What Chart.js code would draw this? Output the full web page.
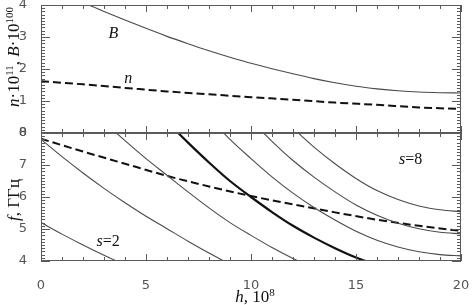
<!DOCTYPE html>
<html>
<head>
<meta charset="utf-8">
<script src="https://cdn.jsdelivr.net/npm/chart.js@4.4.1/dist/chart.umd.min.js"></script>
<style>
  html, body { margin: 0; padding: 0; background: #fff; }
  #wrap { position: relative; width: 473px; height: 305px; }
  #wrap canvas { position: absolute; left: 0; top: 0; }
</style>
</head>
<body>
<div id="wrap">
  <canvas id="topChart" width="473" height="305"></canvas>
  <canvas id="botChart" width="473" height="305"></canvas>
</div>
<script>
(() => {
    // h, 10^8 (integer steps) and a coarser grid for the dashed curves
    const h = [0, 1, 2, 3, 4, 5, 6, 7, 8, 9, 10, 11, 12, 13, 14, 15, 16, 17, 18, 19, 20];
    const hEven = [0, 2, 4, 6, 8, 10, 12, 14, 16, 18, 20];

    // top panel: B*10^100 (solid) and n*10^11 (dashed)
    const bField = [4.70, 4.38, 4.08, 3.80, 3.53, 3.27, 3.02, 2.79, 2.57, 2.37, 2.18, 2.01, 1.85, 1.70, 1.57, 1.46, 1.38, 1.32, 1.28, 1.26, 1.25];
    const nDens = [1.62, 1.52, 1.41, 1.30, 1.21, 1.12, 1.04, 0.95, 0.88, 0.80, 0.75];

    // bottom panel: harmonics s=2..8 (GHz) and plasma frequency (dashed)
    const fS2 = [5.20, 4.84, 4.50, 4.18, 3.88, 3.60, 3.34, 3.08, 2.83, 2.60, 2.40, 2.21, 2.04, 1.89, 1.76, 1.64, 1.55, 1.48, 1.43, 1.40, 1.39];
    const fS3 = [7.80, 7.26, 6.75, 6.27, 5.82, 5.40, 5.01, 4.62, 4.25, 3.90, 3.60, 3.32, 3.06, 2.84, 2.64, 2.47, 2.33, 2.22, 2.15, 2.10, 2.08];
    const fS4 = [10.40, 9.68, 9.00, 8.36, 7.76, 7.20, 6.68, 6.16, 5.66, 5.20, 4.80, 4.42, 4.08, 3.78, 3.52, 3.29, 3.10, 2.96, 2.86, 2.80, 2.77];
    const fS5 = [13.00, 12.10, 11.25, 10.45, 9.70, 9.00, 8.35, 7.70, 7.08, 6.50, 6.00, 5.53, 5.10, 4.73, 4.40, 4.11, 3.88, 3.70, 3.58, 3.50, 3.47];
    const fS6 = [15.60, 14.52, 13.50, 12.54, 11.64, 10.80, 10.02, 9.24, 8.49, 7.80, 7.20, 6.63, 6.12, 5.67, 5.28, 4.93, 4.65, 4.44, 4.29, 4.20, 4.16];
    const fS7 = [18.20, 16.94, 15.75, 14.63, 13.58, 12.60, 11.69, 10.78, 9.91, 9.10, 8.40, 7.74, 7.14, 6.62, 6.16, 5.75, 5.43, 5.18, 5.01, 4.90, 4.85];
    const fS8 = [20.80, 19.36, 18.00, 16.72, 15.52, 14.40, 13.36, 12.32, 11.32, 10.40, 9.60, 8.84, 8.16, 7.56, 7.04, 6.58, 6.20, 5.92, 5.72, 5.60, 5.54];
    const fPlasma = [7.82, 7.42, 7.04, 6.66, 6.33, 6.03, 5.77, 5.52, 5.29, 5.10, 4.94];

    const hTicks = [0, 5, 10, 15, 20];
    const topTicks = [0, 1, 2, 3, 4];
    const botTicks = [4, 5, 6, 7, 8];

    const SERIF = '"Liberation Serif", "Times New Roman", serif';
    const TICK_FONT = { family: '"DejaVu Sans", sans-serif', size: 13 };
    const TICK_COLOR = '#555';

    const pts = (xs, ys) => xs.map((x, i) => ({ x, y: ys[i] }));

    function thin(data) {
        return { data, borderColor: '#4a4a4a', borderWidth: 1.1, pointRadius: 0, cubicInterpolationMode: 'monotone', fill: false };
    }
    function dashed(data) {
        return { data, borderColor: '#111', borderWidth: 2, borderDash: [8, 4], pointRadius: 0, cubicInterpolationMode: 'monotone', fill: false };
    }

    // text with italic parts and superscripts, centred on (x, y)
    function drawRich(ctx, parts, x, y, angle, size) {
        const fontOf = p => `${p.it ? 'italic ' : ''}${p.sup ? Math.round(size * 0.65) : size}px ${SERIF}`;
        let w = 0;
        parts.forEach(p => { ctx.font = fontOf(p); w += ctx.measureText(p.t).width; });
        ctx.save();
        ctx.translate(x, y);
        ctx.rotate(angle);
        ctx.fillStyle = '#111';
        ctx.textAlign = 'left';
        ctx.textBaseline = 'alphabetic';
        let cx = -w / 2;
        parts.forEach(p => {
            ctx.font = fontOf(p);
            ctx.fillText(p.t, cx, p.sup ? 0 : size * 0.35);
            cx += ctx.measureText(p.t).width;
        });
        ctx.restore();
    }

    const framePlugin = {
        id: 'frame',
        afterDatasetsDraw(chart, args, opts) {
            const { ctx, chartArea: a } = chart;
            const x = chart.scales.x, y = chart.scales.y;
            ctx.save();
            ctx.strokeStyle = '#5a5a5a';
            ctx.lineWidth = 1;
            ctx.strokeRect(a.left + 0.5, a.top + 0.5, a.right - a.left - 1, a.bottom - a.top - 1);
            ctx.beginPath();
            for (let v = x.min; v <= x.max; v++) {
                const px = Math.round(x.getPixelForValue(v)) + 0.5;
                const len = v % 5 === 0 ? 7 : 4;
                ctx.moveTo(px, a.top); ctx.lineTo(px, a.top + len);
                ctx.moveTo(px, a.bottom); ctx.lineTo(px, a.bottom - len);
            }
            for (let i = Math.round(y.min * 10); i <= Math.round(y.max * 10); i++) {
                const py = Math.round(y.getPixelForValue(i / 10)) + 0.5;
                const len = i % 10 === 0 ? 9 : 4;
                ctx.moveTo(a.left, py); ctx.lineTo(a.left + len, py);
                ctx.moveTo(a.right, py); ctx.lineTo(a.right - len, py);
            }
            ctx.stroke();
            ctx.restore();

            (opts.notes || []).forEach(n => {
                drawRich(ctx, n.parts, x.getPixelForValue(n.h), y.getPixelForValue(n.v), 0, 16);
            });
            (opts.titles || []).forEach(t => {
                drawRich(ctx, t.parts, t.x(a, chart), t.y(a, chart), t.angle, 17);
            });
        }
    };

    function xScale(show) {
        return {
            type: 'linear', min: 0, max: 20, display: show,
            grid: { display: false }, border: { display: false },
            afterBuildTicks: s => { s.ticks = hTicks.map(v => ({ value: v })); },
            ticks: { font: TICK_FONT, color: TICK_COLOR, padding: 9, maxRotation: 0 },
            afterFit: s => {
                s.height = show ? 44 : 0;
                s.paddingLeft = 0;
                s.paddingRight = 0;
            }
        };
    }
    function yScale(min, max, tickVals) {
        return {
            type: 'linear', min, max,
            grid: { display: false }, border: { display: false },
            afterBuildTicks: s => { s.ticks = tickVals.map(v => ({ value: v })); },
            ticks: { font: TICK_FONT, color: TICK_COLOR, padding: 6 },
            afterFit: s => { s.width = 41; s.paddingTop = 0; s.paddingBottom = 0; }
        };
    }

    new Chart(document.getElementById('topChart'), {
        type: 'line',
        data: {
            datasets: [
                thin(pts(h, bField)),
                dashed(pts(hEven, nDens))
            ]
        },
        options: {
            responsive: false,
            animation: false,
            layout: { padding: { top: 5, right: 12, bottom: 172, left: 0 } },
            scales: { x: xScale(false), y: yScale(0, 4, topTicks) },
            plugins: {
                legend: { display: false },
                tooltip: { enabled: false },
                frame: {
                    notes: [
                        { parts: [{ t: 'B', it: true }], h: 3.45, v: 3.15 },
                        { parts: [{ t: 'n', it: true }], h: 4.15, v: 1.75 }
                    ],
                    titles: [
                        {
                            parts: [{ t: 'n', it: true }, { t: '·10' }, { t: '11', sup: true }, { t: ', ' },
                                    { t: 'B', it: true }, { t: '·10' }, { t: '100', sup: true }],
                            x: () => 13, y: a => (a.top + a.bottom) / 2 - 12, angle: -Math.PI / 2
                        }
                    ]
                }
            }
        },
        plugins: [framePlugin]
    });

    new Chart(document.getElementById('botChart'), {
        type: 'line',
        data: {
            datasets: [
                thin(pts(h, fS2)),
                thin(pts(h, fS3)),
                thin(pts(h, fS4)),
                { ...thin(pts(h, fS5)), borderColor: '#111', borderWidth: 2.2 },
                thin(pts(h, fS6)),
                thin(pts(h, fS7)),
                thin(pts(h, fS8)),
                dashed(pts(hEven, fPlasma))
            ]
        },
        options: {
            responsive: false,
            animation: false,
            layout: { padding: { top: 133, right: 12, bottom: 0, left: 0 } },
            scales: { x: xScale(true), y: yScale(4, 8, botTicks) },
            plugins: {
                legend: { display: false },
                tooltip: { enabled: false },
                frame: {
                    notes: [
                        { parts: [{ t: 's', it: true }, { t: '=2' }], h: 3.2, v: 4.65 },
                        { parts: [{ t: 's', it: true }, { t: '=8' }], h: 17.6, v: 7.2 }
                    ],
                    titles: [
                        {
                            parts: [{ t: 'f', it: true }, { t: ', ГГц' }],
                            x: () => 13, y: a => (a.top + a.bottom) / 2 + 3, angle: -Math.PI / 2
                        },
                        {
                            parts: [{ t: 'h', it: true }, { t: ', 10' }, { t: '8', sup: true }],
                            x: a => (a.left + a.right) / 2 + 4, y: (a, c) => c.height - 9, angle: 0
                        }
                    ]
                }
            }
        },
        plugins: [framePlugin]
    });
})();
</script>
</body>
</html>
